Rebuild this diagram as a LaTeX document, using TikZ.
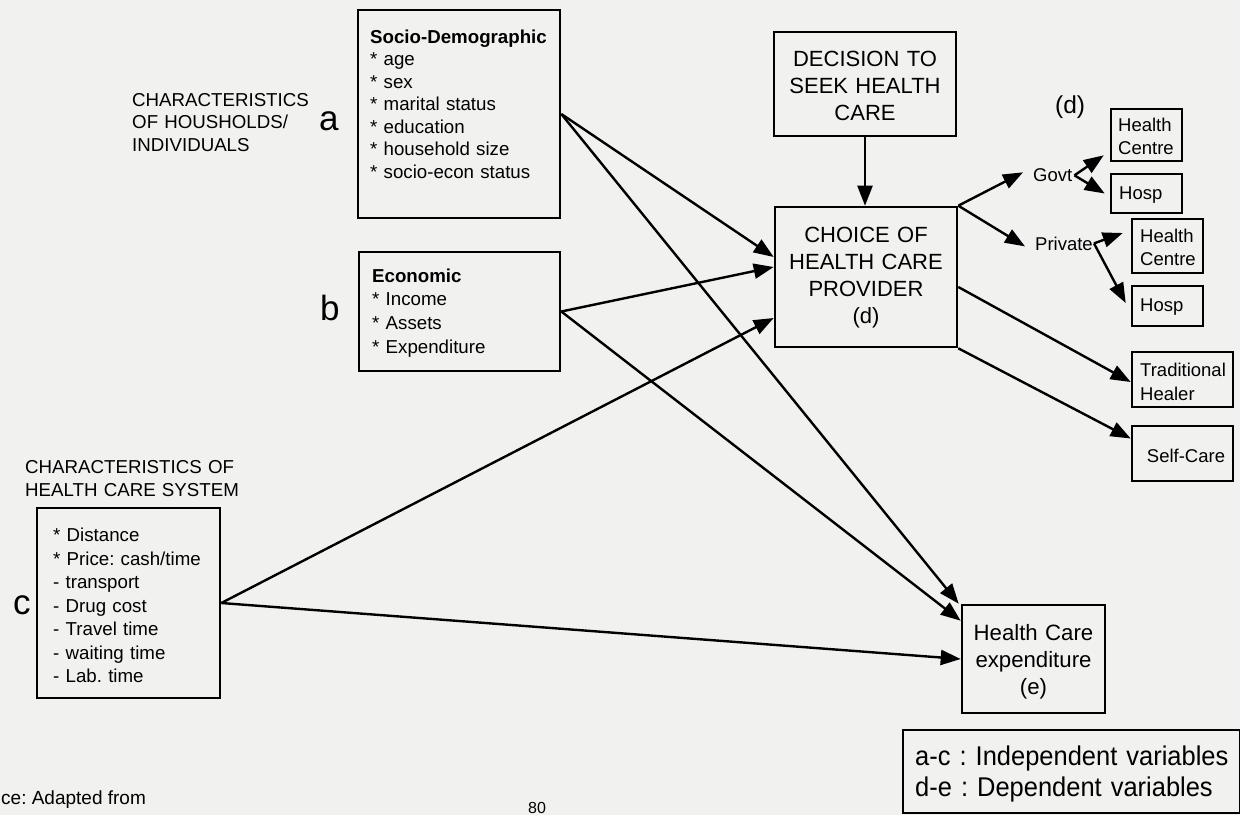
\documentclass[tikz,border=0pt]{standalone}
\usepackage{fontspec}
\setmainfont{Liberation Sans}
\newfontfamily\keyfont{Liberation Sans}[FakeStretch=0.94]
\usetikzlibrary{arrows.meta}
\definecolor{paper}{RGB}{241,241,240}
\newcommand\setfs[2]{\fontsize{#1}{#2}\selectfont}
\frenchspacing
\begin{document}
\begin{tikzpicture}[x=1pt,y=-1pt,
  box/.style={draw,line width=2.6pt,inner sep=0pt},
  conn/.style={line width=2.4pt,-{Triangle[length=20pt,width=15pt]}},
  txt/.style={inner sep=0pt,anchor=base west,align=left},
  ctxt/.style={inner sep=0pt,anchor=base,align=center},
  list/.style={txt,font={\setfs{18.7}{23.5}}},
  big/.style={txt,font={\setfs{35}{40}}},
  small/.style={txt,font={\setfs{18.5}{22.3}}},
  head/.style={ctxt,font={\setfs{22}{27}}}]
\useasboundingbox (0,0) rectangle (1240,815);
\clip (0,0) rectangle (1240,815);
\fill[paper] (0,0) rectangle (1240,815);

% independent variables: households / individuals
\node[txt,font={\setfs{18.7}{22.5}},text width=180pt] (hhlabel) at (132,106)
  {CHARACTERISTICS\\OF HOUSHOLDS/\\INDIVIDUALS};
\node[big] (la) at (319,130) {a};
\node[box,minimum width=202pt,minimum height=208pt] (socio) at (459,114) {};
\node[txt,font={\setfs{18.7}{22.5}},text width=185pt] (sociotxt) at (370,43)
  {\textbf{Socio-Demographic}\\{*} age\\{*} sex\\{*} marital status\\{*} education\\{*} household size\\{*} socio-econ status};

\node[big] (lb) at (320,320.7) {b};
\node[box,minimum width=201pt,minimum height=119pt] (econ) at (459.5,311.5) {};
\node[txt,font={\setfs{18.7}{23.7}},text width=180pt] (econtxt) at (372,282)
  {\textbf{Economic}\\{*} Income\\{*} Assets\\{*} Expenditure};

% independent variables: health care system
\node[txt,font={\setfs{18.7}{23}},text width=240pt] (hslabel) at (25,473)
  {CHARACTERISTICS OF\\HEALTH CARE SYSTEM};
\node[big] (lc) at (13,614) {c};
\node[box,minimum width=183pt,minimum height=190pt] (sys) at (128.5,603) {};
\node[list,text width=165pt] (systxt) at (53,541.7)
  {{*} Distance\\{*} Price: cash/time\\- transport\\- Drug cost\\- Travel time\\- waiting time\\- Lab. time};

% dependent variables
\node[box,minimum width=182pt,minimum height=104pt] (dec) at (865,84) {};
\node[head,text width=180pt] (dectxt) at (865,66.7) {DECISION TO\\SEEK HEALTH\\CARE};
\node[box,minimum width=182pt,minimum height=140pt] (choice) at (866,277) {};
\node[head,text width=180pt] (choicetxt) at (866,242.3) {CHOICE OF\\HEALTH CARE\\PROVIDER\\(d)};
\node[box,minimum width=143pt,minimum height=108pt] (exp) at (1033.5,659) {};
\node[ctxt,font={\setfs{22.2}{27}},text width=140pt] (exptxt) at (1033.5,640) {Health Care\\expenditure\\(e)};

% providers
\node[txt,font={\setfs{24.5}{28}}] (dlabel) at (1055,113.3) {(d)};
\node[box,minimum width=71pt,minimum height=52pt] (hc1) at (1146.5,135) {};
\node[small,text width=65pt] (hc1txt) at (1118,131.7) {Health\\Centre};
\node[box,minimum width=71pt,minimum height=39pt] (hosp1) at (1146.5,193.5) {};
\node[small] (hosp1txt) at (1119,199.3) {Hosp};
\node[box,minimum width=71pt,minimum height=54pt] (hc2) at (1167.5,246) {};
\node[small,text width=65pt] (hc2txt) at (1140,242.7) {Health\\Centre};
\node[box,minimum width=71pt,minimum height=40pt] (hosp2) at (1167.5,306) {};
\node[small] (hosp2txt) at (1140,311.7) {Hosp};
\node[small] (govt) at (1033,181.7) {Govt};
\node[small] (priv) at (1035,250) {Private};
\node[box,minimum width=101pt,minimum height=55pt] (th) at (1182.5,379.5) {};
\node[txt,font={\setfs{18.5}{24}},text width=95pt] (thtxt) at (1140,376) {Traditional\\Healer};
\node[box,minimum width=101pt,minimum height=55pt] (sc) at (1182.5,453.5) {};
\node[small] (sctxt) at (1146.7,462.7) {Self-Care};

% key
\node[box,minimum width=337pt,minimum height=83pt] (key) at (1071.5,771.5) {};
\node[txt,font={\keyfont\setfs{27.1}{31.7}},text width=330pt] (keytxt) at (915,765)
  {a-c : Independent variables\\d-e : Dependent variables};

\node[txt,font={\setfs{19}{22}}] (src) at (1,804) {ce: Adapted from};
\node[txt,font={\setfs{16}{20}}] (pageno) at (528,813) {80};

% connectors
\draw[conn] (dec.south) -- (dec.south |- choice.north);
\draw[conn] (socio.east) -- ([yshift=20pt]choice.west);
\draw[conn] (socio.east) -- ([xshift=-2pt]exp.north west);
\draw[conn] (econ.east) -- ([yshift=10pt]choice.west);
\draw[conn] (econ.east) -- ([yshift=-17pt]exp.north west);
\draw[conn] (sys.east) -- ([yshift=-41pt]choice.west);
\draw[conn] (sys.east) -- (exp.west);
\draw[conn] (choice.north east) -- ([shift={(-10pt,3pt)}]govt.west);
\draw[conn] (choice.north east) -- ([shift={(-10pt,-3pt)}]priv.west);
\draw[conn] ([xshift=2pt]govt.east) -- ([shift={(-6pt,7pt)}]hc1.south west);
\draw[conn] ([xshift=2pt]govt.east) -- ([xshift=-5pt]hosp1.west);
\draw[conn] ([xshift=1pt]priv.east) -- ([shift={(-8pt,13pt)}]hc2.west);
\draw[conn] ([xshift=1pt]priv.east) -- ([shift={(-5pt,3pt)}]hosp2.west);
\draw[conn] ([yshift=-10pt]choice.east) -- ([yshift=-2.5pt]th.west);
\draw[conn] (choice.south east) -- ([yshift=15pt]sc.west);
\end{tikzpicture}
\end{document}
